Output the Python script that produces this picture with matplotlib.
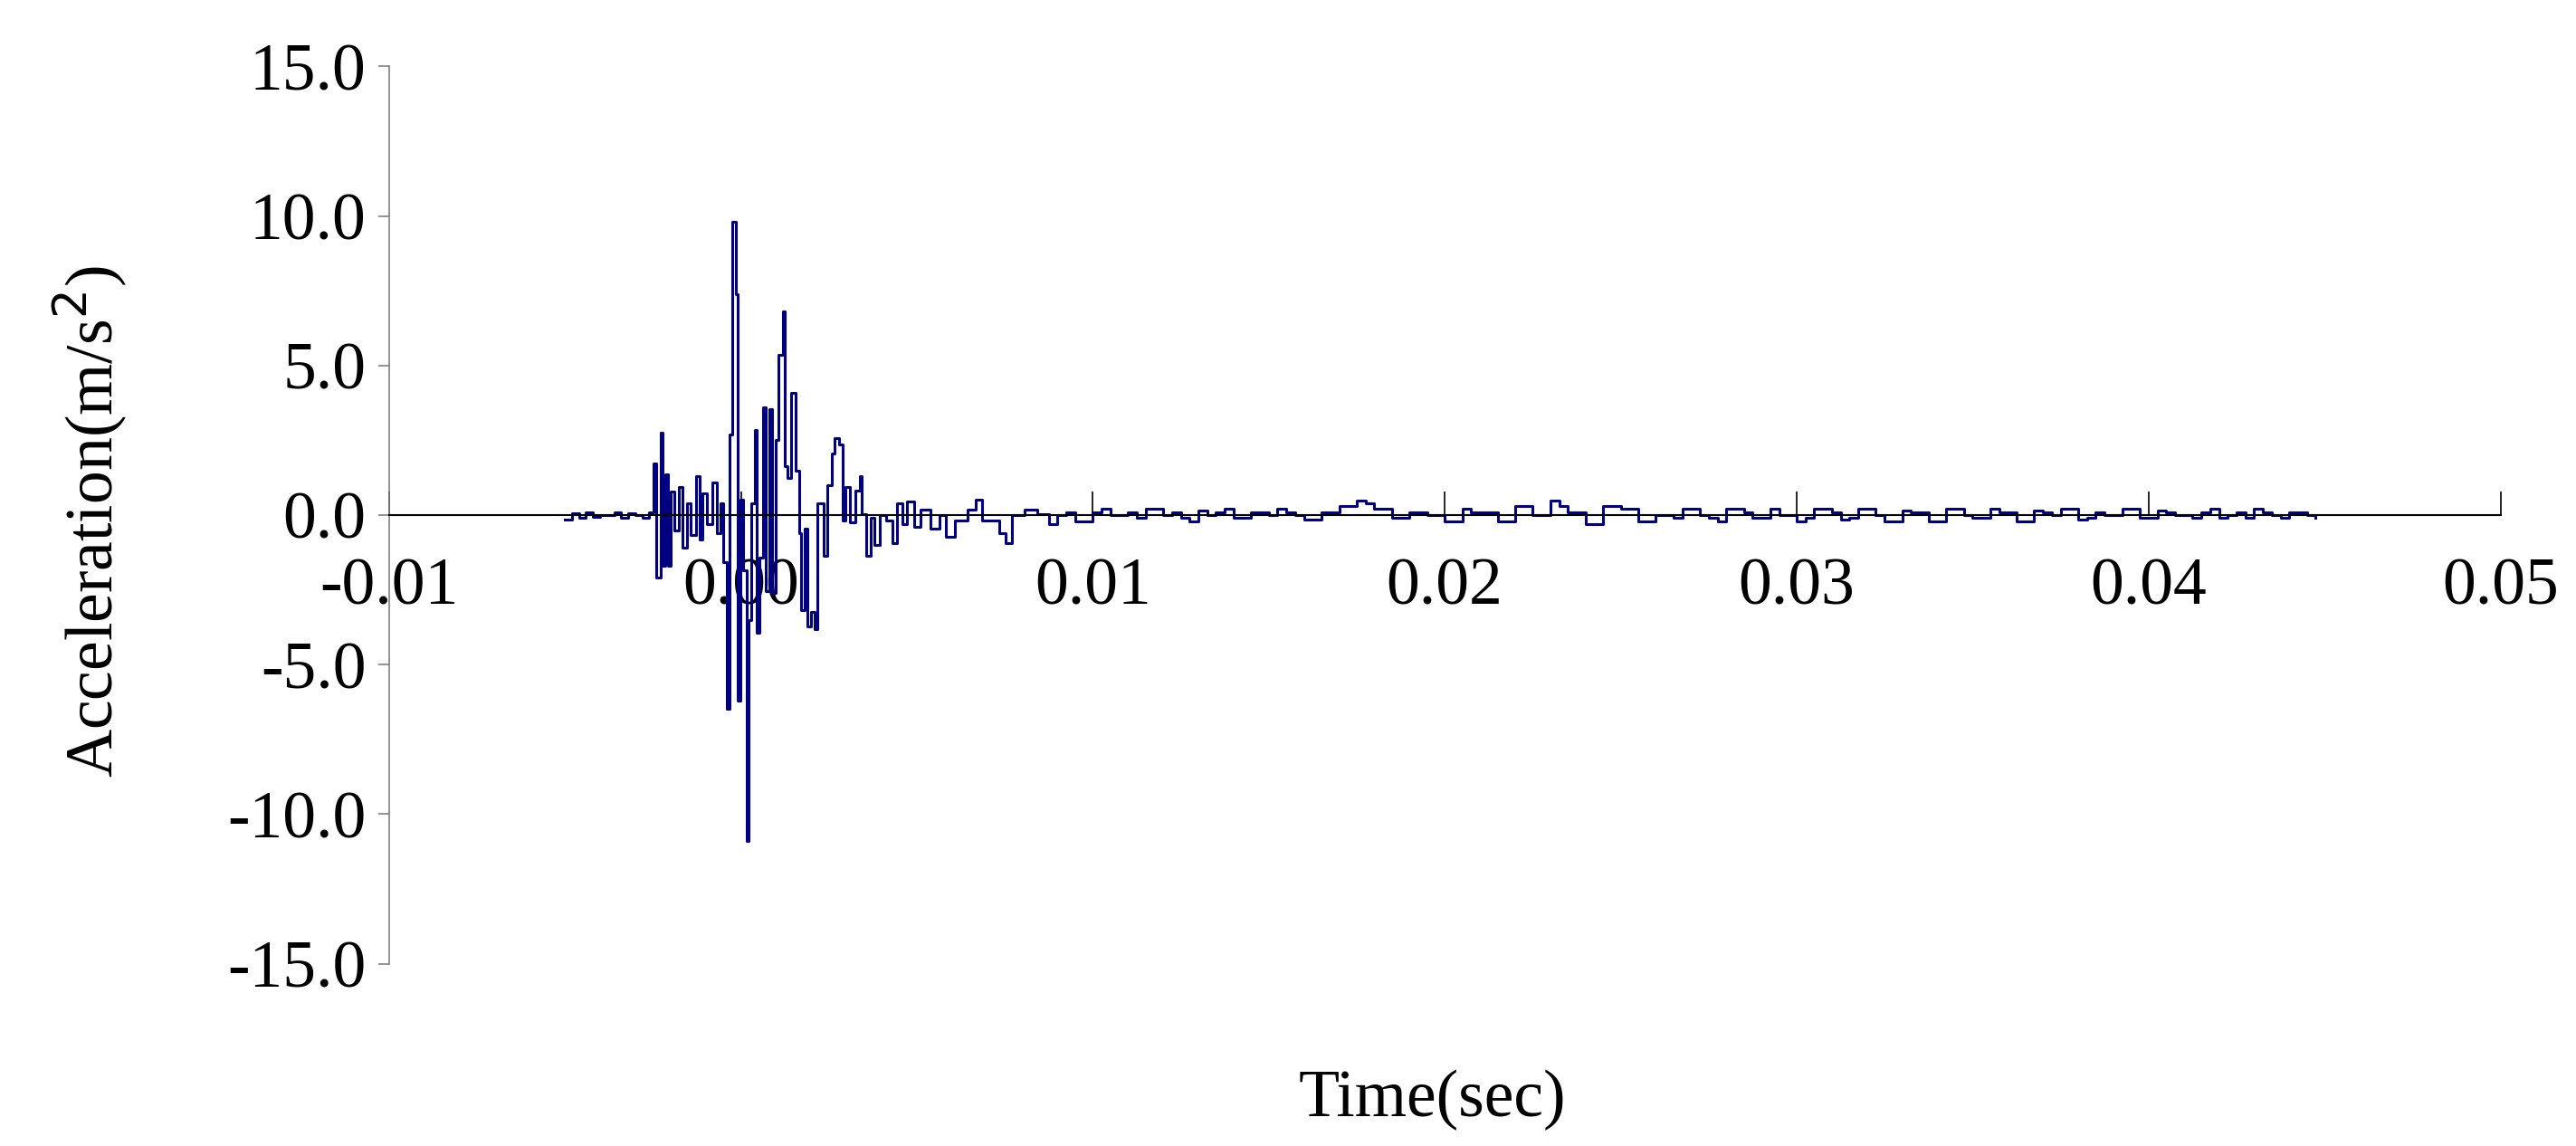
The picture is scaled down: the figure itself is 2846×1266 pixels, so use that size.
import numpy as np
import matplotlib
matplotlib.use("Agg")
from matplotlib import pyplot as plt

plt.rcParams['font.family'] = ['Liberation Serif', 'DejaVu Serif']

# pre-event noise (ms, m/s^2)
pre_t = [-5.0, -4.8, -4.6, -4.4, -4.2, -4.0, -3.8, -3.6, -3.4, -3.2, -3.0, -2.8, -2.6]
pre_a = [-0.15, 0.05, -0.1, 0.1, -0.05, 0.0, 0.0, 0.1, -0.1, 0.05, 0.0, -0.1, 0.1]

# main burst (ms, m/s^2)
burst_t = [-2.48, -2.40, -2.29, -2.22, -2.14, -2.07, -1.99, -1.90, -1.77, -1.66,
           -1.54, -1.43, -1.27, -1.18, -1.09, -0.96, -0.80, -0.69, -0.58, -0.50,
           -0.40, -0.33, -0.24, -0.15, -0.10, -0.01, 0.05, 0.17, 0.21, 0.30,
           0.39, 0.46, 0.53, 0.64, 0.71, 0.80, 0.89, 0.98, 1.07, 1.20,
           1.25, 1.33, 1.42, 1.56, 1.65, 1.72, 1.81, 1.90, 2.00, 2.09,
           2.16, 2.36, 2.45, 2.58, 2.67, 2.80, 2.89, 2.98, 3.11, 3.24,
           3.38, 3.42, 3.56, 3.69, 3.78, 3.95, 4.13, 4.31, 4.44, 4.58,
           4.71, 4.93, 5.11, 5.38, 5.65, 5.83, 6.09, 6.45, 6.68, 6.86,
           7.17, 7.35, 7.53, 7.71, 8.06, 8.42]
burst_a = [1.72, -2.1, 2.77, -1.7, 1.37, -1.7, 0.8, -0.5, 0.95, -1.08,
           0.4, -0.65, 1.3, -0.8, 0.74, -0.3, 1.1, -0.6, 0.4, -1.57,
           -6.46, 2.7, 9.8, 7.4, -6.2, 0.53, -1.85, -10.9, -3.5, 0.4,
           2.84, -3.94, -1.43, 3.6, -2.54, 3.54, -2.6, 2.5, 5.35, 6.8,
           1.65, 1.23, 4.1, 1.5, -0.6, -3.17, -0.45, -3.73, -3.24, -3.8,
           0.4, -1.36, 1.0, 2.07, 2.56, 2.35, -0.17, 0.95, -0.24, 0.81,
           1.3, 0.04, -1.36, -0.1, -1.0, 0.0, -0.17, -0.94, 0.4, -0.3,
           0.46, -0.38, 0.18, -0.45, 0.0, -0.73, -0.17, 0.18, 0.53, -0.17,
           -0.17, -0.6, -0.94, 0.0, 0.18, 0.04]

# tail noise, every 0.25 ms from 8.75 ms to 45 ms
tail_t = list(np.arange(8.75, 45.01, 0.25))
tail_a = [-0.3, 0.0, 0.1, -0.2, -0.2, 0.1, 0.2, 0.0, 0.0, 0.1,
          -0.1, 0.2, 0.2, 0.0, 0.1, -0.1, -0.2, 0.15, 0.0, 0.1,
          0.2, -0.1, -0.1, 0.1, 0.1, 0.0, 0.2, 0.1, 0.0, -0.15,
          -0.15, 0.1, 0.1, 0.3, 0.3, 0.5, 0.4, 0.2, 0.2, -0.1,
          -0.1, 0.1, 0.1, 0.0, 0.0, -0.2, -0.2, 0.2, 0.1, 0.1,
          0.1, -0.2, -0.2, 0.3, 0.3, 0.0, 0.0, 0.5, 0.3, 0.1,
          0.1, -0.3, -0.3, 0.3, 0.3, 0.2, 0.2, -0.2, -0.2, 0.0,
          0.0, -0.1, 0.2, 0.2, 0.0, -0.1, -0.2, 0.2, 0.2, 0.1,
          -0.1, -0.1, 0.2, 0.0, 0.0, -0.2, -0.1, 0.2, 0.2, 0.1,
          -0.15, -0.1, 0.2, 0.2, 0.0, -0.2, -0.2, 0.15, 0.1, 0.1,
          -0.2, -0.2, 0.2, 0.2, 0.0, -0.1, -0.1, 0.2, 0.1, 0.1,
          -0.2, -0.2, 0.15, 0.1, 0.0, 0.2, 0.2, -0.15, -0.1, 0.1,
          0.0, 0.0, 0.2, 0.2, -0.1, -0.1, 0.15, 0.1, 0.0, 0.0,
          -0.1, 0.1, 0.2, -0.1, 0.0, 0.1, -0.1, 0.2, 0.1, 0.0,
          -0.1, 0.1, 0.1, 0.0, -0.1][:len(tail_t)]
tail_t = tail_t[:len(tail_a)]

t = np.array(pre_t + burst_t + tail_t) / 1000.0
a = np.array(pre_a + burst_a + tail_a)

fig = plt.figure(figsize=(28.46, 12.66), dpi=100)
ax = fig.add_axes([0.151, 0.159, 0.8197, 0.783])
ax.plot(t, a, color='#000080', linewidth=2.2, drawstyle='steps-post')

ax.set_xlim(-0.01, 0.05)
ax.set_ylim(-15, 15)
ax.set_xticks(np.arange(-0.01, 0.0501, 0.01))
ax.set_xticklabels(['-0.01', '0.00', '0.01', '0.02', '0.03', '0.04', '0.05'])
ax.set_yticks(np.arange(-15, 15.1, 5))
ax.set_yticklabels([f"{v:.1f}" for v in np.arange(-15, 15.1, 5)])

ax.spines['top'].set_visible(False)
ax.spines['right'].set_visible(False)
ax.spines['bottom'].set_position(('data', 0))
ax.spines['bottom'].set_linewidth(1.5)
ax.spines['left'].set_color('#808080')
ax.spines['left'].set_linewidth(1.2)

ax.tick_params(axis='x', direction='in', length=19, width=1.2, pad=34, labelsize=53)
ax.tick_params(axis='y', direction='out', length=9, width=1.2, color='#808080', pad=9, labelsize=53)

fig.text(0.035, 0.545, 'Acceleration(m/s$^2$)', rotation=90, ha='center', va='center',
         fontsize=53)
fig.text(0.556, 0.04, 'Time(sec)', ha='center', va='center', fontsize=53)

fig.savefig('out.png', dpi=100, facecolor='white')
